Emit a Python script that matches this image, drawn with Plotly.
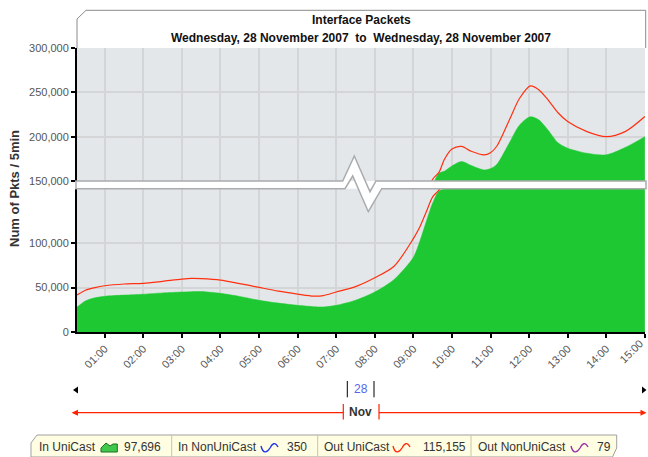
import plotly.graph_objects as go

# ---------------- data ----------------
DAY = "2007-11-28 "
times = ["00:17", "00:30", "00:45", "01:00", "01:30", "02:00", "02:30", "03:00", "03:15",
         "03:30", "04:00", "04:30", "05:00", "05:30", "06:00", "06:25", "06:40", "07:00",
         "07:30", "08:00", "08:30", "09:00", "09:10", "09:20", "09:30", "09:40", "09:48",
         "10:00", "10:15", "10:30", "10:50", "11:00", "11:10", "11:30", "11:45", "12:02",
         "12:15", "12:30", "12:45", "13:00", "13:30", "14:00", "14:30", "15:00"]

# packets per 5 min (thousands)
in_unicast = [28, 35, 38.5, 40.2, 41.5, 42.5, 44, 45, 45.4,
              45.5, 43.5, 40, 35.7, 32.5, 30, 28.5, 28.2, 30,
              35.7, 45, 59, 84, 102, 124, 145, 159, 161,
              167, 172, 167.5, 162.5, 164, 169, 194, 213, 222.5,
              219, 207, 193, 187, 181.3, 179.5, 188, 200]

out_unicast = [41.6, 47, 50, 52, 54, 54.7, 57, 59.5, 60.3,
               60, 58.4, 54.5, 50.2, 46, 42.7, 40.4, 41, 45,
               51, 61, 74, 105, 118, 135, 152, 160, 174,
               186, 189, 183.5, 179.4, 182, 189.5, 220, 243, 257.3,
               253, 241, 227, 217, 205.7, 200, 206, 222.7]

nonuni_times = ["00:17", "15:00"]
in_nonunicast = [350, 350]
out_nonunicast = [79, 79]

hour_ticks = ["01:00", "02:00", "03:00", "04:00", "05:00", "06:00", "07:00", "08:00",
              "09:00", "10:00", "11:00", "12:00", "13:00", "14:00", "15:00"]
lower_ticks = [0, 50000, 100000]
upper_ticks = [150000, 200000, 250000, 300000]

legend_names = ["In UniCast", "In NonUniCast", "Out UniCast", "Out NonUniCast"]
legend_values = ["97,696", "350", "115,155", "79"]
legend_colors = ["#1ec832", "#2233ee", "#ff3010", "#9933aa"]

title_lines = ["Interface Packets",
               "Wednesday, 28 November 2007\u00a0\u00a0to\u00a0\u00a0Wednesday, 28 November 2007"]
y_title = "Num of Pkts / 5min"
day_label = "28"
month_label = "Nov"

# ---------------- geometry helpers ----------------
W, H = 648, 457
ML, MR, MT, MB = 77, 3, 48, 125
PW, PH = W - ML - MR, H - MT - MB


def PX(px):
    return (px - ML) / PW


def PY(py):
    return (H - MB - py) / PH


def poly(pts, close=True):
    s = "M " + " L ".join(f"{PX(x):.5f},{PY(y):.5f}" for x, y in pts)
    return s + (" Z" if close else "")


def wave(x0, y0):
    # small legend wave icon
    p = [(x0, y0), (x0 + 2, y0 + 8), (x0 + 6, y0 + 7), (x0 + 9, y0 + 2),
         (x0 + 11, y0 - 2), (x0 + 14, y0 - 5), (x0 + 17, y0 + 1)]
    f = lambda q: f"{PX(q[0]):.5f},{PY(q[1]):.5f}"
    return f"M {f(p[0])} C {f(p[1])} {f(p[2])} {f(p[3])} C {f(p[4])} {f(p[5])} {f(p[6])}"


x = [DAY + t for t in times]
xn = [DAY + t for t in nonuni_times]
iu = [v * 1000 for v in in_unicast]
ou = [v * 1000 for v in out_unicast]

GREEN = "#1ec832"
RED = "#ff3010"
FONT = "Liberation Sans"

fig = go.Figure()
for xa, ya in (("x", "y"), ("x2", "y2")):
    fig.add_trace(go.Scatter(x=xn, y=in_nonunicast, mode="lines", xaxis=xa, yaxis=ya,
                             line=dict(color="#2233ee", width=1), showlegend=False))
    fig.add_trace(go.Scatter(x=xn, y=out_nonunicast, mode="lines", xaxis=xa, yaxis=ya,
                             line=dict(color="#9933aa", width=1), showlegend=False))
    fig.add_trace(go.Scatter(x=x, y=iu, mode="lines", xaxis=xa, yaxis=ya, fill="tozeroy",
                             fillcolor=GREEN, line=dict(color=GREEN, width=0.5, shape="spline",
                                                        smoothing=0.8),
                             showlegend=False))
    fig.add_trace(go.Scatter(x=x, y=ou, mode="lines", xaxis=xa, yaxis=ya,
                             line=dict(color=RED, width=1.2, shape="spline", smoothing=0.8),
                             showlegend=False))

xrange = [DAY + "00:16:56", DAY + "15:00:15"]
tickv = [DAY + t for t in hour_ticks]
# the last label sits on the right edge; it is drawn as an annotation kept inside the page
tickt = hour_ticks[:-1] + [""]
GRID = "#d3d5d7"
common_x = dict(type="date", range=xrange, tickvals=tickv, ticktext=tickt,
                showgrid=True, gridcolor=GRID, gridwidth=1.5, zeroline=False)

fig.update_layout(
    width=W, height=H,
    margin=dict(l=ML, r=MR, t=MT, b=MB, pad=0),
    paper_bgcolor="white", plot_bgcolor="#e4e7ea",
    font=dict(family=FONT, size=11, color="#444"),
    showlegend=False,
    xaxis=dict(**common_x, domain=[0, 1], anchor="y", ticks="outside", ticklen=4,
               tickwidth=2, tickcolor="black", tickangle=-45,
               tickfont=dict(size=11, color="#555"),
               showline=True, linecolor="black", linewidth=2),
    xaxis2=dict(**common_x, domain=[0, 1], anchor="y2", matches="x",
                showticklabels=False, ticks="", showline=False),
    yaxis=dict(domain=[0, PY(188.7)], range=[0, 161200], anchor="x",
               tickvals=lower_ticks, tickformat=",d", ticks="outside", ticklen=4,
               tickwidth=1.5, tickcolor="black", showline=True, linecolor="black",
               linewidth=2, showgrid=True, gridcolor=GRID, gridwidth=1.5, zeroline=False,
               tickfont=dict(size=11, color="#555")),
    yaxis2=dict(domain=[PY(181), 1], range=[150000, 300000], anchor="x2",
                tickvals=upper_ticks, tickformat=",d", ticks="outside", ticklen=4,
                tickwidth=1.5, tickcolor="black", showline=True, linecolor="black",
                linewidth=2, showgrid=True, gridcolor=GRID, gridwidth=1.5, zeroline=False,
                tickfont=dict(size=11, color="#555")),
)

shapes = []
# title box
shapes.append(dict(type="path", xref="paper", yref="paper", layer="above",
                   path=poly([(77, 48), (77, 19), (86, 10.3), (645.7, 10.3), (645.7, 48)], close=False),
                   fillcolor="white", line=dict(color="#8a8a8a", width=1)))
# axis break band with zigzag
band = [(76, 181), (342.7, 181), (354.3, 156), (370, 191.7), (376, 181), (646, 181),
        (646, 188.7), (381.7, 188.7), (368.3, 211.7), (352.7, 176), (345, 188.7), (76, 188.7)]
shapes.append(dict(type="path", xref="paper", yref="paper", layer="above", path=poly(band),
                   fillcolor="white", line=dict(color="#a9abad", width=1.5)))
# day row
shapes.append(dict(type="path", xref="paper", yref="paper",
                   path=poly([(73, 390), (78, 386.5), (78, 393.5)]),
                   fillcolor="black", line=dict(width=0)))
shapes.append(dict(type="path", xref="paper", yref="paper",
                   path=poly([(646.5, 390), (642, 386.5), (642, 393.5)]),
                   fillcolor="black", line=dict(width=0)))
for sx in (347.3, 374):
    shapes.append(dict(type="line", xref="paper", yref="paper", x0=PX(sx), x1=PX(sx),
                       y0=PY(381), y1=PY(397.3), line=dict(color="black", width=1)))
# month row
TL = "#ff2200"
shapes.append(dict(type="line", xref="paper", yref="paper", x0=PX(76), x1=PX(343.3),
                   y0=PY(412.7), y1=PY(412.7), line=dict(color=TL, width=1.2)))
shapes.append(dict(type="line", xref="paper", yref="paper", x0=PX(379), x1=PX(643),
                   y0=PY(412.7), y1=PY(412.7), line=dict(color=TL, width=1.2)))
shapes.append(dict(type="path", xref="paper", yref="paper",
                   path=poly([(71.5, 412.7), (78, 409.7), (78, 415.7)]),
                   fillcolor=TL, line=dict(width=0)))
shapes.append(dict(type="path", xref="paper", yref="paper",
                   path=poly([(646.5, 412.7), (640.5, 409.7), (640.5, 415.7)]),
                   fillcolor=TL, line=dict(width=0)))
for sx in (343.3, 379):
    shapes.append(dict(type="line", xref="paper", yref="paper", x0=PX(sx), x1=PX(sx),
                       y0=PY(404), y1=PY(419.5), line=dict(color=TL, width=1.2)))
# legend box
shapes.append(dict(type="path", xref="paper", yref="paper",
                   path=poly([(31, 457), (31, 443), (37, 435), (616.7, 435), (616.7, 448),
                              (612.5, 457)]),
                   fillcolor="#fffde2", line=dict(color="#a0a0a0", width=1)))
for sx in (171.7, 317.7, 471):
    shapes.append(dict(type="line", xref="paper", yref="paper", x0=PX(sx), x1=PX(sx),
                       y0=PY(435), y1=PY(457), line=dict(color="#c8c4a8", width=1)))
# legend icons
shapes.append(dict(type="path", xref="paper", yref="paper",
                   path=poly([(101, 452), (101, 448), (106, 443), (110, 446), (113, 444),
                              (117.3, 444), (117.3, 452)]),
                   fillcolor="#3fc84c", line=dict(color="#1c6e24", width=1)))
for x0, col in ((261, legend_colors[1]), (393, legend_colors[2]), (571, legend_colors[3])):
    shapes.append(dict(type="path", xref="paper", yref="paper", path=wave(x0, 446),
                       line=dict(color=col, width=1.4)))
fig.update_layout(shapes=shapes)

ann = []
ann.append(dict(text=f"<b>{title_lines[0]}</b>", x=PX(361.4), y=PY(20), xref="paper",
                yref="paper", showarrow=False, xanchor="center", yanchor="middle",
                font=dict(size=12, color="#111", family=FONT)))
ann.append(dict(text=f"<b>{title_lines[1]}</b>", x=PX(361.4), y=PY(38), xref="paper",
                yref="paper", showarrow=False, xanchor="center", yanchor="middle",
                font=dict(size=12, color="#111", family=FONT)))
ann.append(dict(text=f"<b>{y_title}</b>", x=PX(14), y=PY(189), xref="paper", yref="paper",
                showarrow=False, textangle=-90, xanchor="center", yanchor="middle",
                font=dict(size=13, color="#333", family=FONT)))
ann.append(dict(text=day_label, x=PX(360.6), y=PY(389), xref="paper", yref="paper",
                showarrow=False, xanchor="center", yanchor="middle",
                font=dict(size=12, color="#5566ee", family=FONT)))
ann.append(dict(text=f"<b>{month_label}</b>", x=PX(360.6), y=PY(411.5), xref="paper",
                yref="paper", showarrow=False, xanchor="center", yanchor="middle",
                font=dict(size=12, color="#333", family=FONT)))
# last x tick label, kept inside the page edge
ann.append(dict(text=hour_ticks[-1], x=PX(647), y=PY(335), xref="paper", yref="paper",
                showarrow=False, textangle=-45, xanchor="right", yanchor="top",
                borderpad=0, font=dict(size=11, color="#555", family=FONT)))
name_x = [37.3, 176, 321.7, 476]
val_x = [122, 285.3, 420.7, 595.3]
for i in range(4):
    for tx, tt in ((name_x[i], legend_names[i]), (val_x[i], legend_values[i])):
        ann.append(dict(text=tt, x=PX(tx), y=PY(446.5), xref="paper", yref="paper",
                        showarrow=False, xanchor="left", yanchor="middle",
                        font=dict(size=12, color="#333", family=FONT)))
fig.update_layout(annotations=ann)

fig.write_html("out.html", config={"displayModeBar": False},
               post_script=("document.body.style.margin='0';"
                            "document.body.style.overflow='hidden';"))
